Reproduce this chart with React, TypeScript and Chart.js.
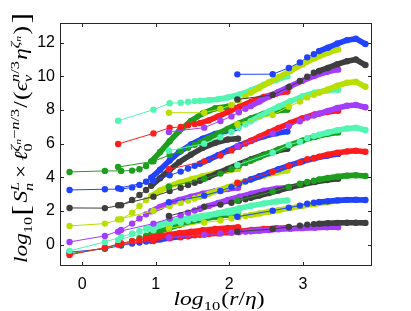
import React, { useEffect, useRef } from "react";
import { Chart, registerables } from "chart.js";
Chart.register(...registerables);

// Axis ticks
const X_TICKS = [0, 1, 2, 3];
const Y_TICKS = [0, 2, 4, 6, 8, 10, 12];

// log10(r/eta) sample positions of each data set
const XA = [-0.17, 0.31, 0.53, 0.68, 0.78, 0.87, 0.94, 1.06, 1.19, 1.32, 1.48, 1.64, 1.81, 1.98, 2.12];
const XB = [0.49, 0.97, 1.19, 1.34, 1.44, 1.53, 1.6, 1.72, 1.85, 1.98, 2.14, 2.3, 2.47, 2.64, 2.79];
const XC = [1.18, 1.66, 1.88, 2.03, 2.13, 2.22, 2.29, 2.41, 2.54, 2.67, 2.83, 2.99, 3.16, 3.33, 3.48];
const XD = [2.11, 2.59, 2.81, 2.96, 3.06, 3.15, 3.22, 3.34, 3.47, 3.6, 3.72, 3.85];

// data set A0 (low curves)
const A0_BLUE = [-0.45, -0.25, -0.05, 0.06, 0.13, 0.18, 0.23, 0.31, 0.39, 0.47, 0.56, 0.64, 0.72, 0.78, 0.83];
const A0_GREEN = [-0.55, -0.21, 0.04, 0.22, 0.38, 0.52, 0.63, 0.82, 1.0, 1.17, 1.35, 1.51, 1.65, 1.77, 1.86];

// data set A
const A_RED1 = [-0.61, -0.18, 0.08, 0.2, 0.29, 0.36, 0.42, 0.51, 0.6, 0.68, 0.77, 0.85, 0.93, 0.99, 1.03];
const A_AQUA2 = [-0.37, 0.16, 0.45, 0.66, 0.82, 0.95, 1.05, 1.2, 1.34, 1.46, 1.59, 1.71, 1.82, 1.91, 1.97];
const A_PURPLE3 = [0.16, 0.52, 0.87, 1.25, 1.56, 1.8, 1.98, 2.24, 2.47, 2.66, 2.85, 3.02, 3.18, 3.3, 3.38];
const A_YELLOW4 = [1.11, 1.25, 1.51, 1.9, 2.3, 2.65, 2.9, 3.22, 3.48, 3.68, 3.88, 4.06, 4.24, 4.4, 4.5];
const A_GRAY5 = [2.18, 2.17, 2.34, 2.65, 2.95, 3.25, 3.5, 3.95, 4.45, 4.9, 5.35, 5.75, 6.05, 6.25, 6.3];
const A_BLUE6 = [3.25, 3.29, 3.3, 3.4, 3.55, 3.74, 3.98, 4.45, 5.0, 5.5, 5.95, 6.3, 6.58, 6.78, 6.95];
const A_GREEN7 = [4.32, 4.38, 4.38, 4.4, 4.48, 4.67, 4.95, 5.5, 6.15, 6.75, 7.35, 7.8, 8.1, 8.2, 8.12];

// data set B
const B_RED1 = [0.0, 0.22, 0.38, 0.44, 0.5, 0.56, 0.59, 0.63, 0.68, 0.73, 0.8, 0.87, 0.93, 0.97, 1.0];
const B_AQUA2 = [0.28, 0.85, 1.15, 1.3, 1.42, 1.52, 1.6, 1.73, 1.87, 2.0, 2.16, 2.31, 2.45, 2.56, 2.63];
const B_PURPLE3 = [0.77, 1.25, 1.55, 1.75, 1.9, 2.03, 2.13, 2.3, 2.48, 2.65, 2.85, 3.03, 3.2, 3.33, 3.4];
const B_YELLOW4 = [1.5, 2.0, 2.3, 2.48, 2.62, 2.74, 2.84, 3.02, 3.22, 3.42, 3.66, 3.88, 4.1, 4.28, 4.4];
const B_GRAY5 = [2.34, 2.85, 3.18, 3.38, 3.54, 3.68, 3.8, 4.02, 4.26, 4.5, 4.8, 5.08, 5.35, 5.56, 5.7];
const B_BLUE6 = [3.35, 3.78, 4.12, 4.34, 4.52, 4.68, 4.81, 5.05, 5.32, 5.58, 5.9, 6.18, 6.44, 6.62, 6.72];
const B_GREEN7 = [4.61, 4.95, 5.32, 5.56, 5.76, 5.93, 6.07, 6.32, 6.6, 6.88, 7.22, 7.52, 7.78, 7.95, 8.02];
const B_RED8 = [5.98, 6.61, 6.95, 6.99, 7.09, 7.17, 7.22, 7.38, 7.62, 7.88, 8.2, 8.5, 8.78, 8.98, 9.1];
const B_AQUA9 = [7.36, 8.02, 8.4, 8.43, 8.49, 8.53, 8.55, 8.58, 8.64, 8.74, 8.92, 9.18, 9.5, 9.8, 10.0];

// data set C
const C_PURPLE1 = [0.42, 0.58, 0.66, 0.71, 0.74, 0.77, 0.79, 0.83, 0.87, 0.91, 0.95, 0.98, 1.01, 1.03, 1.03];
const C_YELLOW2 = [0.97, 1.31, 1.43, 1.55, 1.63, 1.7, 1.76, 1.85, 1.95, 2.05, 2.17, 2.29, 2.41, 2.52, 2.61];
const C_GRAY3 = [1.7, 2.26, 2.38, 2.49, 2.6, 2.7, 2.78, 2.92, 3.07, 3.22, 3.4, 3.57, 3.72, 3.84, 3.92];
const C_BLUE4 = [2.52, 2.91, 3.19, 3.42, 3.6, 3.75, 3.87, 4.06, 4.27, 4.48, 4.72, 4.94, 5.13, 5.28, 5.39];
const C_GREEN5 = [3.44, 3.92, 4.22, 4.48, 4.68, 4.85, 4.98, 5.2, 5.43, 5.66, 5.93, 6.18, 6.4, 6.57, 6.67];
const C_RED6 = [4.48, 4.95, 5.3, 5.6, 5.82, 6.01, 6.16, 6.42, 6.68, 6.93, 7.23, 7.5, 7.73, 7.88, 7.96];
const C_AQUA7 = [5.58, 6.0, 6.38, 6.7, 6.95, 7.16, 7.33, 7.62, 7.92, 8.2, 8.52, 8.8, 9.03, 9.16, 9.2];
const C_PURPLE8 = [6.7, 6.95, 7.35, 7.62, 7.87, 8.07, 8.23, 8.5, 8.8, 9.08, 9.42, 9.73, 10.03, 10.27, 10.4];
const C_YELLOW9 = [7.84, 7.84, 8.06, 8.3, 8.58, 8.82, 9.02, 9.32, 9.65, 9.95, 10.32, 10.7, 11.07, 11.38, 11.6];

// data set D
const D_GRAY1 = [0.77, 0.93, 1.05, 1.13, 1.19, 1.22, 1.24, 1.27, 1.29, 1.3, 1.3, 1.29];
const D_BLUE2 = [1.66, 2.02, 2.2, 2.32, 2.43, 2.49, 2.53, 2.58, 2.63, 2.66, 2.67, 2.65];
const D_GREEN3 = [2.61, 3.15, 3.43, 3.62, 3.72, 3.8, 3.87, 3.96, 4.04, 4.1, 4.12, 4.08];
const D_RED4 = [3.68, 4.33, 4.69, 4.89, 5.07, 5.15, 5.23, 5.35, 5.46, 5.54, 5.58, 5.52];
const D_AQUA5 = [4.73, 5.46, 5.92, 6.12, 6.32, 6.45, 6.53, 6.66, 6.8, 6.9, 6.95, 6.81];
const D_PURPLE6 = [5.85, 6.6, 7.05, 7.33, 7.55, 7.67, 7.78, 7.95, 8.12, 8.25, 8.3, 8.16];
const D_YELLOW7 = [7.17, 7.7, 8.2, 8.5, 8.75, 8.9, 9.03, 9.22, 9.45, 9.62, 9.68, 9.38];
const D_GRAY8 = [8.63, 8.89, 9.35, 9.72, 9.98, 10.21, 10.32, 10.5, 10.72, 10.9, 11.0, 10.67];
const D_BLUE9 = [10.12, 10.13, 10.5, 10.83, 11.13, 11.32, 11.5, 11.7, 11.95, 12.15, 12.24, 11.92];

const RED = "#ff1c1c";
const AQUA = "#52f5b2";
const PURPLE = "#a33cff";
const YELLOW = "#b8df00";
const GRAY = "#3e3e3e";
const BLUE = "#2142ff";
const GREEN = "#1e9e1e";

// plotting order (later = on top)
const SERIES = [
  { x: XA, y: A0_BLUE, c: BLUE },
  { x: XA, y: A0_GREEN, c: GREEN },
  { x: XA, y: A_RED1, c: RED },
  { x: XA, y: A_AQUA2, c: AQUA },
  { x: XA, y: A_PURPLE3, c: PURPLE },
  { x: XA, y: A_YELLOW4, c: YELLOW },
  { x: XA, y: A_GRAY5, c: GRAY },
  { x: XA, y: A_BLUE6, c: BLUE },
  { x: XA, y: A_GREEN7, c: GREEN },
  { x: XB, y: B_RED1, c: RED },
  { x: XB, y: B_AQUA2, c: AQUA },
  { x: XB, y: B_PURPLE3, c: PURPLE },
  { x: XB, y: B_YELLOW4, c: YELLOW },
  { x: XB, y: B_GRAY5, c: GRAY },
  { x: XB, y: B_BLUE6, c: BLUE },
  { x: XB, y: B_GREEN7, c: GREEN },
  { x: XB, y: B_RED8, c: RED },
  { x: XB, y: B_AQUA9, c: AQUA },
  { x: XC, y: C_PURPLE1, c: PURPLE },
  { x: XC, y: C_YELLOW2, c: YELLOW },
  { x: XC, y: C_GRAY3, c: GRAY },
  { x: XC, y: C_BLUE4, c: BLUE },
  { x: XC, y: C_GREEN5, c: GREEN },
  { x: XC, y: C_RED6, c: RED },
  { x: XC, y: C_AQUA7, c: AQUA },
  { x: XC, y: C_PURPLE8, c: PURPLE },
  { x: XC, y: C_YELLOW9, c: YELLOW },
  { x: XD, y: D_GRAY1, c: GRAY },
  { x: XD, y: D_BLUE2, c: BLUE },
  { x: XD, y: D_GREEN3, c: GREEN },
  { x: XD, y: D_RED4, c: RED },
  { x: XD, y: D_AQUA5, c: AQUA },
  { x: XD, y: D_PURPLE6, c: PURPLE },
  { x: XD, y: D_YELLOW7, c: YELLOW },
  { x: XD, y: D_GRAY8, c: GRAY },
  { x: XD, y: D_BLUE9, c: BLUE },
];

const DENSE_FROM = 6;

type Run = { t: string; s?: number; dy?: number; it?: boolean; adv?: boolean; gap?: number };

const Y_TITLE: Run[] = [
  { t: "log", it: true },
  { t: "10", s: 0.7, dy: 0.28, gap: 1 },
  { t: "[", s: 1.35, dy: 0.12, gap: 2 },
  { t: "S", it: true },
  { t: "n", s: 0.7, dy: 0.3, it: true, adv: false },
  { t: "L", s: 0.7, dy: -0.45, it: true, gap: 3 },
  { t: "×", gap: 3 },
  { t: "ℓ", it: true },
  { t: "0", s: 0.7, dy: 0.28, adv: false },
  { t: "ζ", s: 0.7, dy: -0.45, it: true },
  { t: "n", s: 0.5, dy: -0.32, it: true },
  { t: "−", s: 0.7, dy: -0.45 },
  { t: "n", s: 0.7, dy: -0.45, it: true },
  { t: "/3", s: 0.7, dy: -0.45, gap: 1 },
  { t: "/", gap: 1 },
  { t: "(", s: 1.1, dy: 0.05 },
  { t: "ϵ", it: true },
  { t: "v", s: 0.7, dy: 0.28, it: true, adv: false },
  { t: "n", s: 0.7, dy: -0.45, it: true },
  { t: "/3", s: 0.7, dy: -0.45, gap: 1 },
  { t: "η", it: true },
  { t: "ζ", s: 0.7, dy: -0.45, it: true },
  { t: "n", s: 0.5, dy: -0.32, it: true, gap: 1 },
  { t: ")", s: 1.1, dy: 0.05, gap: 2 },
  { t: "]", s: 1.35, dy: 0.12 },
];

const X_TITLE: Run[] = [
  { t: "log", it: true },
  { t: "10", s: 0.7, dy: 0.28, gap: 1 },
  { t: "(" },
  { t: "r", it: true },
  { t: "/" },
  { t: "η", it: true },
  { t: ")" },
];

function drawRuns(ctx: CanvasRenderingContext2D, runs: Run[], B: number, targetW: number) {
  const fam = '"Liberation Serif", "DejaVu Serif", serif';
  const fontFor = (r: Run) => `${r.it ? "italic " : ""}${((r.s ?? 1) * B).toFixed(2)}px ${fam}`;
  const widths: number[] = [];
  let w = 0;
  for (const r of runs) {
    ctx.font = fontFor(r);
    const m = ctx.measureText(r.t).width;
    widths.push(m);
    if (r.adv !== false) w += m + (r.gap ?? 0);
  }
  const sx = targetW / w;
  ctx.save();
  ctx.scale(sx, 1);
  ctx.textAlign = "left";
  ctx.textBaseline = "alphabetic";
  ctx.fillStyle = "#000";
  let x = -w / 2;
  runs.forEach((r, i) => {
    ctx.font = fontFor(r);
    ctx.fillText(r.t, x, (r.dy ?? 0) * B);
    if (r.adv !== false) x += widths[i] + (r.gap ?? 0);
  });
  ctx.restore();
}

const framePlugin = {
  id: "frame",
  afterDatasetsDraw(chart: any) {
    const { ctx, chartArea: a, scales } = chart;
    ctx.save();
    ctx.strokeStyle = "#262626";
    ctx.lineWidth = 1;
    ctx.strokeRect(Math.round(a.left) + 0.5, Math.round(a.top) + 0.5, Math.round(a.right - a.left) - 1, Math.round(a.bottom - a.top) - 1);
    const L = 4;
    ctx.beginPath();
    for (const v of X_TICKS) {
      const px = Math.round(scales.x.getPixelForValue(v)) + 0.5;
      ctx.moveTo(px, a.bottom);
      ctx.lineTo(px, a.bottom - L);
      ctx.moveTo(px, a.top);
      ctx.lineTo(px, a.top + L);
    }
    for (const v of Y_TICKS) {
      const py = Math.round(scales.y.getPixelForValue(v)) + 0.5;
      ctx.moveTo(a.left, py);
      ctx.lineTo(a.left + L, py);
      ctx.moveTo(a.right, py);
      ctx.lineTo(a.right - L, py);
    }
    ctx.stroke();
    ctx.restore();
  },
  afterDraw(chart: any) {
    const { ctx } = chart;
    ctx.save();
    ctx.translate(219, 305);
    drawRuns(ctx, X_TITLE, 19, 91);
    ctx.restore();
    ctx.save();
    ctx.translate(27, 138);
    ctx.rotate(-Math.PI / 2);
    drawRuns(ctx, Y_TITLE, 18.5, 250);
    ctx.restore();
  },
};

export default function App() {
  const ref = useRef<HTMLCanvasElement>(null);
  useEffect(() => {
    document.body.style.margin = "0";
    if (!ref.current) return;
    const datasets = SERIES.map((s) => ({
      data: s.x.map((xv, i) => ({ x: xv, y: s.y[i] })),
      showLine: true,
      borderColor: s.c,
      backgroundColor: s.c,
      pointBackgroundColor: s.c,
      pointBorderWidth: 0,
      pointRadius: 3.2,
      borderWidth: 1,
      borderCapStyle: "round" as const,
      borderJoinStyle: "round" as const,
      tension: 0,
      segment: {
        borderWidth: (c: any) => (c.p0DataIndex >= DENSE_FROM ? 5.6 : 1),
      },
    })).reverse();
    const chart = new Chart(ref.current, {
      type: "scatter",
      data: { datasets },
      plugins: [framePlugin],
      options: {
        animation: false,
        responsive: false,
        devicePixelRatio: 1,
        layout: { padding: { top: 23, right: 39, left: 0, bottom: 0 } },
        plugins: { legend: { display: false }, tooltip: { enabled: false } },
        scales: {
          x: {
            type: "linear",
            min: -0.3,
            max: 3.94,
            grid: { display: false, drawTicks: false },
            border: { display: false },
            ticks: { color: "#000", font: { family: '"Liberation Sans", Arial, sans-serif', size: 16 }, padding: 9, callback: (v: any) => String(v) },
            afterBuildTicks: (s: any) => { s.ticks = X_TICKS.map((v) => ({ value: v })); },
            afterFit: (s: any) => { s.height = 45; },
          },
          y: {
            type: "linear",
            min: -1.27,
            max: 13.17,
            grid: { display: false, drawTicks: false },
            border: { display: false },
            ticks: { color: "#000", font: { family: '"Liberation Sans", Arial, sans-serif', size: 16 }, padding: 5, callback: (v: any) => String(v) },
            afterBuildTicks: (s: any) => { s.ticks = Y_TICKS.map((v) => ({ value: v })); },
            afterFit: (s: any) => { s.width = 60; },
          },
        },
      },
    });
    return () => chart.destroy();
  }, []);
  return (
    <div style={{ width: 411, height: 311 }}>
      <canvas ref={ref} width={411} height={311} style={{ display: "block" }} />
    </div>
  );
}
